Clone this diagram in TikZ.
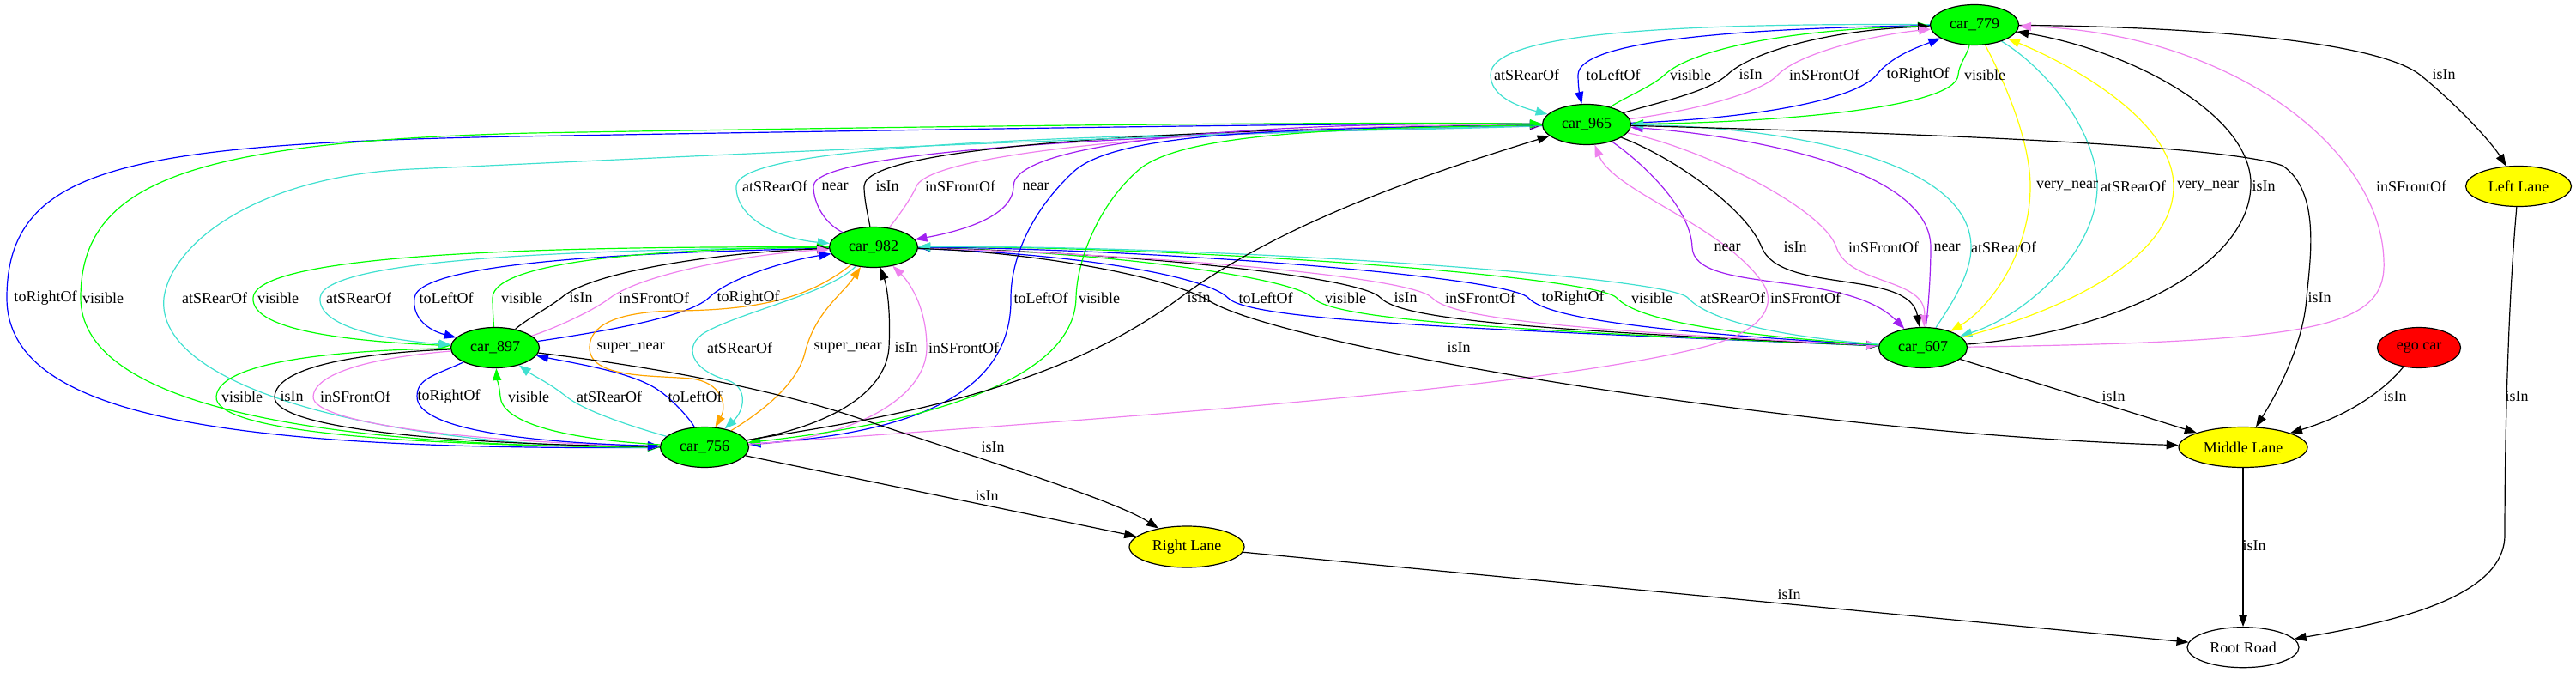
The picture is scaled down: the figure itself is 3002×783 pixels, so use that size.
\documentclass[tikz,border=0pt]{standalone}
\usepackage{fontspec}
\setmainfont{Liberation Serif}
\usepackage{tikz}
\usetikzlibrary{arrows.meta,shapes.geometric,backgrounds,positioning}
\definecolor{gvgreen}{HTML}{00FF00}
\definecolor{gvturq}{HTML}{40E0D0}
\definecolor{gvviolet}{HTML}{EE82EE}
\definecolor{gvpurple}{HTML}{A020F0}
\definecolor{gvorange}{HTML}{FFA500}
\definecolor{gvyellow}{HTML}{FFFF00}
\definecolor{gvblue}{HTML}{0000FF}
\definecolor{gvred}{HTML}{FF0000}
\tikzset{
  car/.style={ellipse, draw=black, line width=0.6pt, fill=gvgreen, inner sep=0pt,
              minimum width=51.5pt, minimum height=23.5pt, font=\fontsize{9}{10}\selectfont},
  lane/.style={car, fill=gvyellow},
  lbl/.style={inner sep=0pt, font=\fontsize{9}{10}\selectfont},
  rel/.style={line width=0.6pt, -{Triangle[length=7pt,width=5pt]}},
  relIsIn/.style={rel, draw=black},
  relLeft/.style={rel, draw=gvblue},
  relRight/.style={rel, draw=gvblue},
  relVis/.style={rel, draw=gvgreen},
  relRear/.style={rel, draw=gvturq},
  relFront/.style={rel, draw=gvviolet},
  relNear/.style={rel, draw=gvpurple},
  relSuper/.style={rel, draw=gvorange},
  relVery/.style={rel, draw=gvyellow},
}
\begin{document}
\begin{tikzpicture}[x=0.5pt, y=0.5pt]
\useasboundingbox (0,0) rectangle (3002,783);

\node[car] (c779) at (2301,754) {car\_779};
\node[car] (c965) at (1849,638) {car\_965};
\node[car] (c982) at (1018,495) {car\_982};
\node[car] (c897) at (577,378) {car\_897};
\node[car] (c756) at (821,262) {car\_756};
\node[car] (c607) at (2241,378) {car\_607};
\node[lane, minimum width=61.5pt] (leftlane) at (2935,566) {Left Lane};
\node[car, fill=gvred, minimum width=48.5pt] (ego) at (2819,378) {ego car};
\node[lane, minimum width=75pt] (midlane) at (2614,262) {Middle Lane};
\node[lane, minimum width=67pt, minimum height=24pt] (rightlane) at (1383,146) {Right Lane};
\node[car, fill=white, minimum width=65pt, below=92.5pt of midlane] (root) {Root Road};

\foreach \txt/\lx/\ly [count=\k] in {
  atSRearOf/1779/696, toLeftOf/1880/696, visible/1970/696, isIn/2040/696,
  inSFrontOf/2126/696, toRightOf/2235/696, visible/2313/696, isIn/2848/696,
  atSRearOf/903/566, near/973/566, isIn/1034/566, inSFrontOf/1119/566, near/1207/566,
  very\_near/2409/566, atSRearOf/2486/566, very\_near/2573/566, isIn/2638/566, inSFrontOf/2810/566,
  near/2013/495, isIn/2092/495, inSFrontOf/2195/495, near/2269/495, atSRearOf/2335/495,
  toRightOf/53/436, visible/120/436, atSRearOf/250/436, visible/324/436, atSRearOf/418/436,
  toLeftOf/520/436, visible/608/436, isIn/677/436, inSFrontOf/762/436, toRightOf/872/436,
  toLeftOf/1213/436, visible/1281/436, isIn/1397/436, toLeftOf/1475/436, visible/1568/436,
  isIn/1638/436, inSFrontOf/1725/436, toRightOf/1833/436, visible/1925/436, atSRearOf/2019/436,
  inSFrontOf/2104/436, isIn/2703/436,
  super\_near/735/378, atSRearOf/862/378, super\_near/988/378, isIn/1056/378, inSFrontOf/1123/378,
  isIn/1700/378,
  visible/282/321, isIn/340/321, inSFrontOf/414/321, toRightOf/523/321, visible/616/321,
  atSRearOf/710/321, toLeftOf/810/321, isIn/2463/321, isIn/2791/321, isIn/2933/321,
  isIn/1157/262, isIn/1150/205, isIn/2627/147, isIn/2085/90}
  \node[lbl] (lab\k) at (\lx,\ly) {\txt};

\begin{scope}[on background layer]
\draw[relRear] (c779) .. controls (1950,756) and (1737,745) .. (1737,696) .. controls (1737,672) and (1765,660) .. (c965);
\draw[relLeft] (c779) .. controls (2020,750) and (1840,735) .. (1839,696) .. controls (1839,682) and (1841,672) .. (c965);
\draw[relVis] (c965) .. controls (1890,668) and (1925,682) .. (1940,696) .. controls (1965,720) and (2060,748) .. (c779);
\draw[relIsIn] (c965) .. controls (1925,662) and (1990,675) .. (2013,696) .. controls (2040,722) and (2130,748) .. (c779);
\draw[relFront] (c965) .. controls (1960,652) and (2050,672) .. (2072,696) .. controls (2095,720) and (2180,742) .. (c779);
\draw[relRight] (c965) .. controls (2050,645) and (2165,668) .. (2187,696) .. controls (2205,718) and (2235,728) .. (c779);
\draw[relVis] (c779) .. controls (2292,718) and (2283,708) .. (2282,696) .. controls (2280,655) and (2050,640) .. (c965);
\draw[relIsIn] (c779) .. controls (2560,752) and (2770,735) .. (2820,696) .. controls (2865,660) and (2905,615) .. (leftlane);

\draw[relVery] (c779) .. controls (2335,690) and (2366,620) .. (2366,566) .. controls (2366,490) and (2320,425) .. (c607);
\draw[relRear] (c779) .. controls (2390,700) and (2444,625) .. (2444,566) .. controls (2444,490) and (2360,415) .. (c607);
\draw[relVery] (c607) .. controls (2400,420) and (2533,480) .. (2533,566) .. controls (2533,640) and (2420,705) .. (c779);
\draw[relIsIn] (c607) .. controls (2460,395) and (2620,470) .. (2623,566) .. controls (2626,650) and (2480,725) .. (c779);
\draw[relFront] (c607) .. controls (2700,385) and (2782,400) .. (2778,480) .. controls (2774,610) and (2600,745) .. (c779);

\draw[relNear] (c965) .. controls (1905,600) and (1970,545) .. (1972,495) .. controls (1974,440) and (2150,470) .. (c607);
\draw[relIsIn] (c965) .. controls (1950,600) and (2035,540) .. (2053,495) .. controls (2075,440) and (2225,470) .. (c607);
\draw[relFront] (c965) .. controls (1985,610) and (2125,540) .. (2140,495) .. controls (2155,450) and (2245,460) .. (c607);
\draw[relNear] (c607) .. controls (2248,430) and (2250,470) .. (2250,495) .. controls (2250,595) and (2000,628) .. (c965);
\draw[relRear] (c607) .. controls (2268,420) and (2297,460) .. (2297,495) .. controls (2297,605) and (2050,636) .. (c965);

\draw[relLeft] (c982) .. controls (1250,488) and (1405,462) .. (1431,436) .. controls (1455,410) and (1700,400) .. (c607);
\draw[relVis] (c982) .. controls (1260,492) and (1505,462) .. (1530,436) .. controls (1555,410) and (1760,398) .. (c607);
\draw[relIsIn] (c982) .. controls (1300,490) and (1585,462) .. (1609,436) .. controls (1633,410) and (1800,398) .. (c607);
\draw[relFront] (c982) .. controls (1320,488) and (1645,462) .. (1669,436) .. controls (1693,410) and (1860,397) .. (c607);
\draw[relRight] (c607) .. controls (1950,395) and (1805,410) .. (1781,436) .. controls (1757,462) and (1320,494) .. (c982);
\draw[relVis] (c607) .. controls (2010,393) and (1908,410) .. (1884,436) .. controls (1860,462) and (1360,497) .. (c982);
\draw[relRear] (c607) .. controls (2070,391) and (1991,410) .. (1967,436) .. controls (1943,462) and (1400,498) .. (c982);

\draw[relRear] (c965) .. controls (1500,626) and (860,628) .. (858,566) .. controls (857,530) and (905,505) .. (c982);
\draw[relNear] (c982) .. controls (962,522) and (948,545) .. (948,566) .. controls (948,612) and (1400,628) .. (c965);
\draw[relIsIn] (c982) .. controls (1012,530) and (1007,550) .. (1007,566) .. controls (1007,618) and (1450,634) .. (c965);
\draw[relFront] (c982) .. controls (1042,525) and (1060,548) .. (1068,566) .. controls (1088,612) and (1500,638) .. (c965);
\draw[relNear] (c965) .. controls (1500,642) and (1181,622) .. (1181,566) .. controls (1181,528) and (1110,512) .. (c982);

\draw[relRight] (c756) .. controls (250,258) and (8,300) .. (8,436) .. controls (8,590) and (150,615) .. (600,624) .. controls (1200,634) and (1600,640) .. (c965);
\draw[relVis] (c756) .. controls (330,262) and (94,320) .. (94,436) .. controls (94,570) and (220,618) .. (620,628) .. controls (1200,638) and (1600,641) .. (c965);
\draw[relRear] (c965) .. controls (1300,626) and (750,598) .. (480,586) .. controls (300,578) and (200,500) .. (191,436) .. controls (180,330) and (450,262) .. (c756);

\draw[relVis] (c982) .. controls (700,496) and (298,492) .. (295,436) .. controls (292,396) and (420,385) .. (c897);
\draw[relRear] (c982) .. controls (740,493) and (376,486) .. (373,436) .. controls (370,400) and (460,386) .. (c897);
\draw[relLeft] (c982) .. controls (800,490) and (488,482) .. (483,436) .. controls (480,412) and (500,398) .. (c897);
\draw[relVis] (c897) .. controls (575,410) and (574,425) .. (574,436) .. controls (574,482) and (800,494) .. (c982);
\draw[relIsIn] (c897) .. controls (612,410) and (640,425) .. (654,436) .. controls (690,468) and (850,490) .. (c982);
\draw[relFront] (c897) .. controls (645,400) and (690,420) .. (711,436) .. controls (750,465) and (880,488) .. (c982);
\draw[relRight] (c897) .. controls (690,395) and (800,412) .. (826,436) .. controls (850,460) and (920,480) .. (c982);

\draw[relVis] (c897) .. controls (380,375) and (255,360) .. (252,321) .. controls (249,282) and (450,264) .. (c756);
\draw[relIsIn] (c897) .. controls (420,372) and (322,356) .. (320,321) .. controls (318,286) and (500,266) .. (c756);
\draw[relFront] (c897) .. controls (450,368) and (367,352) .. (365,321) .. controls (363,290) and (550,268) .. (c756);
\draw[relRight] (c897) .. controls (505,345) and (486,342) .. (486,321) .. controls (486,285) and (600,268) .. (c756);
\draw[relVis] (c756) .. controls (650,272) and (585,292) .. (583,321) .. controls (582,334) and (579,342) .. (c897);
\draw[relRear] (c756) .. controls (730,288) and (680,305) .. (660,321) .. controls (640,337) and (622,345) .. (c897);
\draw[relLeft] (c756) .. controls (806,292) and (786,316) .. (768,328) .. controls (740,348) and (680,358) .. (c897);

\draw[relSuper] (c982) .. controls (950,442) and (900,422) .. (790,421) .. controls (700,420) and (687,395) .. (687,378) .. controls (687,342) and (760,346) .. (805,342) .. controls (840,338) and (848,312) .. (c756);
\draw[relRear] (c982) .. controls (968,442) and (865,420) .. (822,396) .. controls (795,380) and (805,352) .. (848,340) .. controls (872,332) and (868,305) .. (c756);
\draw[relSuper] (c756) .. controls (882,300) and (928,332) .. (938,372) .. controls (950,420) and (982,440) .. (c982);
\draw[relIsIn] (c756) .. controls (960,285) and (1032,322) .. (1036,378) .. controls (1038,420) and (1034,448) .. (c982);
\draw[relFront] (c756) .. controls (1000,272) and (1080,322) .. (1080,378) .. controls (1080,422) and (1062,452) .. (c982);

\draw[relLeft] (c965) .. controls (1500,633) and (1300,630) .. (1250,582) .. controls (1200,535) and (1178,480) .. (1178,436) .. controls (1180,318) and (1050,278) .. (c756);
\draw[relVis] (c965) .. controls (1560,634) and (1380,628) .. (1328,586) .. controls (1280,545) and (1255,480) .. (1254,436) .. controls (1252,335) and (1060,288) .. (c756);
\draw[relIsIn] (c756) .. controls (1000,292) and (1220,320) .. (1375,436) .. controls (1500,530) and (1700,592) .. (c965);
\draw[relFront] (c756) .. controls (1300,296) and (1800,330) .. (1990,380) .. controls (2062,400) and (2068,432) .. (2055,452) .. controls (2010,520) and (1880,560) .. (c965);

\draw[relIsIn] (c982) .. controls (1200,490) and (1360,462) .. (1410,432) .. controls (1500,378) and (2100,278) .. (midlane);
\draw[relIsIn] (c965) .. controls (2300,626) and (2600,612) .. (2660,590) .. controls (2705,560) and (2692,480) .. (2688,436) .. controls (2684,380) and (2652,322) .. (midlane);
\draw[relIsIn] (c607) -- (midlane);
\draw[relIsIn] (ego) .. controls (2780,330) and (2740,300) .. (midlane);
\draw[relIsIn] (leftlane) .. controls (2922,420) and (2919,260) .. (2919,160) .. controls (2919,90) and (2800,60) .. (root);
\draw[relIsIn] (midlane) -- (root);
\draw[relIsIn] (rightlane) -- (root);
\draw[relIsIn] (c897) .. controls (760,356) and (900,330) .. (1000,296) .. controls (1150,246) and (1300,200) .. (rightlane);
\draw[relIsIn] (c756) -- (rightlane);
\end{scope}
\end{tikzpicture}
\end{document}
